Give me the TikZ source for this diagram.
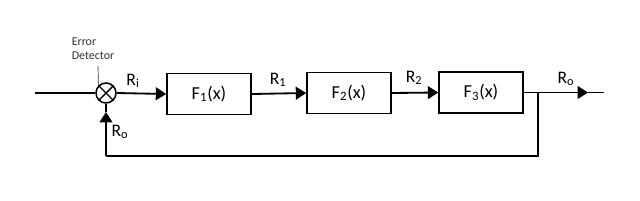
\documentclass[tikz,border=0pt]{standalone}
\usepackage{fontspec}
\setmainfont{Carlito}
\usetikzlibrary{arrows.meta}
\definecolor{notegray}{rgb}{0.22,0.18,0.18}

\begin{document}
\begin{tikzpicture}[x=0.025cm,y=-0.025cm,line cap=butt,line join=miter,
    sig/.style={line width=1.3pt},
    tip/.style={-{Triangle[length=2.6mm,width=3.2mm]}},
    blk/.style={draw,line width=1.1pt,minimum width=2.1cm,minimum height=1.02cm,
      inner sep=0pt,font=\fontsize{13}{15}\selectfont},
    lbl/.style={font=\fontsize{12.5}{14}\selectfont}]
  \useasboundingbox (0,0) rectangle (640,200);
  % blocks
  \node[draw,circle,line width=1.1pt,minimum size=0.5cm,inner sep=0pt] (sum) at (106,93) {};
  \draw[line width=1pt] (sum.north west) -- (sum.south east) (sum.north east) -- (sum.south west);
  \node[blk] (f1) at (209,94) {F\textsubscript{1}(x)};
  \node[blk] (f2) at (349,93) {F\textsubscript{2}(x)};
  \node[blk] (f3) at (481,92.5) {F\textsubscript{3}(x)};
  \coordinate (in) at (35,93);
  \coordinate (branch) at (538,92.5);
  \coordinate (outtip) at (588,92.5);
  \coordinate (out) at (604,92.5);
  \coordinate (fbr) at (538,156);
  \coordinate (fbl) at (106,156);
  \coordinate (fbtip) at (106,112);
  % forward path
  \draw[sig] (in) -- (sum.west);
  \draw[sig,tip] (sum.east) -- (f1.west);
  \draw[sig,tip] (f1.east) -- (f2.west);
  \draw[sig,tip] (f2.east) -- (f3.west);
  \draw[sig] (f3.east) -- (branch);
  \draw[sig,tip] (branch) -- (outtip);
  \draw[sig] (outtip) -- (out);
  % feedback path
  \draw[sig] (branch) -- (fbr) -- (fbl);
  \draw[sig,tip] (fbl) -- (fbtip);
  \draw[sig] (fbtip) -- (sum.south);
  % labels
  \node[lbl] (ri) at (133,81) {R\textsubscript{i}};
  \node[lbl] (r1) at (278,80) {R\textsubscript{1}};
  \node[lbl] (r2) at (414,78) {R\textsubscript{2}};
  \node[lbl] (ro) at (566,79) {R\textsubscript{o}};
  \node[lbl] (rfb) at (120,132) {R\textsubscript{o}};
  \node[align=left,text=notegray,font=\fontsize{8.5}{10}\selectfont,inner sep=1pt]
    (err) at (93,49) {Error\\Detector};
  \draw[notegray,line width=0.5pt] (98,66) -- (sum.north west);
\end{tikzpicture}
\end{document}
